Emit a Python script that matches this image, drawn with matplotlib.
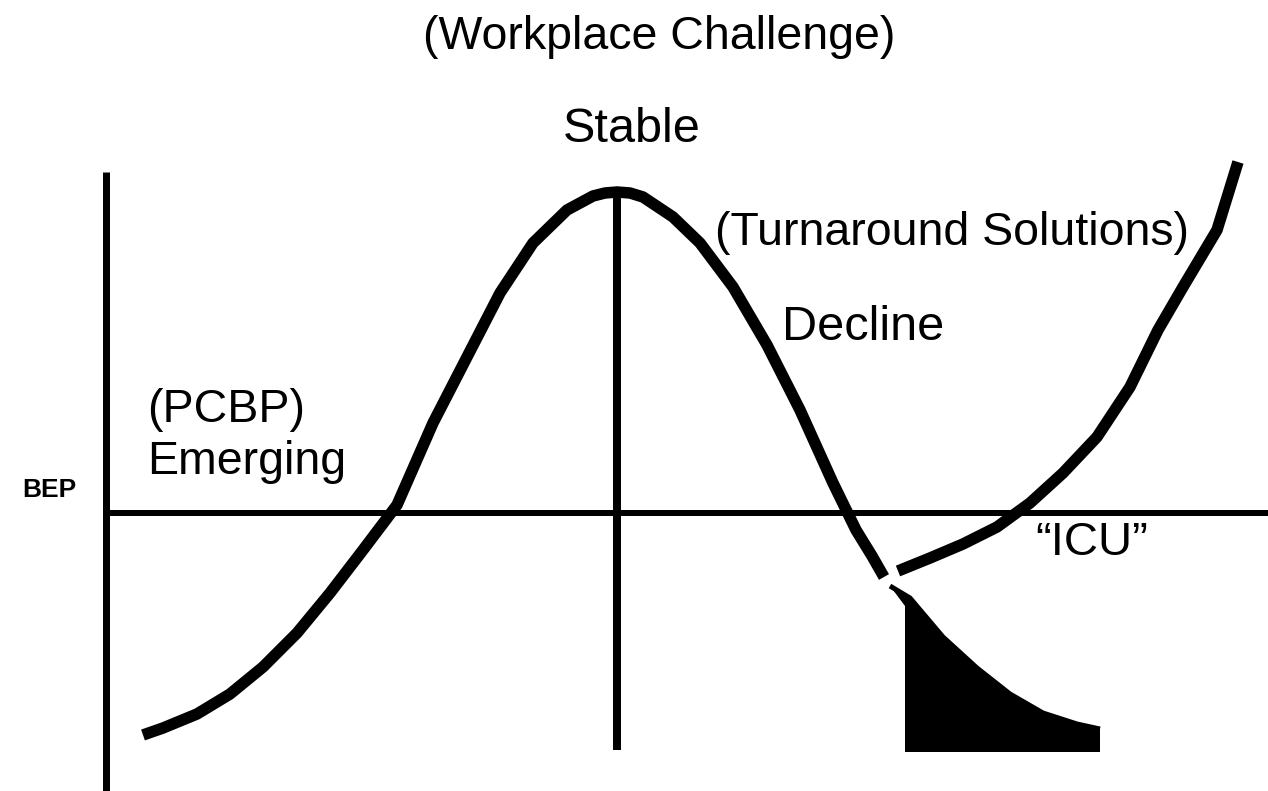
#!/usr/bin/env python3
"""Business life-cycle sketch: emerging -> stable -> decline -> ICU / turnaround."""
import matplotlib
matplotlib.use("Agg")
import matplotlib.pyplot as plt

# diagram space is the picture itself: x to the right, y downwards (0..791)
W, H = 1268, 791

# main life-cycle curve (emerging, stable peak, decline)
life_x = [143, 163, 197, 230, 263, 297, 330, 363, 397, 433, 467, 500, 533, 567,
          593, 605, 617, 630, 643, 673, 700, 733, 767, 800, 833, 856, 872, 884]
life_y = [735, 728, 714, 694, 667, 633, 593, 550, 505, 423, 357, 293, 243, 210,
          196, 193, 192, 193, 197, 217, 243, 287, 345, 410, 483, 530, 556, 577]

# turnaround curve climbing out of the "ICU"
turn_x = [898, 930, 963, 997, 1030, 1063, 1097, 1130, 1158, 1183, 1217, 1238]
turn_y = [571, 558, 544, 527, 503, 473, 437, 387, 330, 287, 230, 162]

# failing tail, shaded down to the floor
tail_x = [890, 910, 943, 977, 1010, 1043, 1077, 1100]
tail_y = [586, 598, 637, 668, 694, 713, 724, 729]
tail_floor = 752
tail_left = 905

bep_y = 513
axis_x = 106
peak_x = 617

labels = [
    # text, x, y (baseline), ha, size, weight, linespacing
    ("(Workplace Challenge)", 423, 49, "left", 33.5, "normal", 1.2),
    ("Stable", 563, 142, "left", 35, "normal", 1.2),
    ("(Turnaround Solutions)", 715, 245, "left", 33.5, "normal", 1.2),
    ("Decline", 782, 340, "left", 35, "normal", 1.2),
    ("(PCBP)\nEmerging", 147, 474, "left", 33.5, "normal", 1.25),
    ("BEP", 77, 497, "right", 19, "bold", 1.2),
    ("\u201cICU\u201d", 1035, 555, "left", 34, "normal", 1.2),
]


def px(p):
    return p * 72 / 100


def main() -> None:
    plt.rcParams["font.family"] = ["Liberation Sans", "DejaVu Sans"]
    fig = plt.figure(figsize=(W / 100, H / 100), dpi=100)
    ax = fig.add_axes([0, 0, 1, 1])
    ax.set_xlim(0, W)
    ax.set_ylim(H, 0)
    ax.axis("off")

    # axes of the sketch
    ax.plot([axis_x, axis_x], [172, H], color="black", lw=px(7), solid_capstyle="butt")
    ax.plot([axis_x, W], [bep_y, bep_y], color="black", lw=px(6), solid_capstyle="butt")
    ax.plot([peak_x, peak_x], [193, 750], color="black", lw=px(8), solid_capstyle="butt")

    ax.plot(life_x, life_y, color="black", lw=px(11.5), solid_capstyle="butt",
            solid_joinstyle="round")
    ax.plot(turn_x, turn_y, color="black", lw=px(11.5), solid_capstyle="butt",
            solid_joinstyle="round")

    poly_x = tail_x + [tail_x[-1], tail_left, tail_left]
    poly_y = tail_y + [tail_floor, tail_floor, 606]
    ax.fill(poly_x, poly_y, color="black", lw=0)
    ax.plot(tail_x, tail_y, color="black", lw=px(5), solid_capstyle="butt")

    for text, x, y, ha, size, weight, ls in labels:
        ax.text(x, y, text, ha=ha, va="baseline", fontsize=size, fontweight=weight,
                color="black", linespacing=ls, multialignment="left")

    fig.savefig("out.png", dpi=100)
    plt.close(fig)


if __name__ == "__main__":
    main()
